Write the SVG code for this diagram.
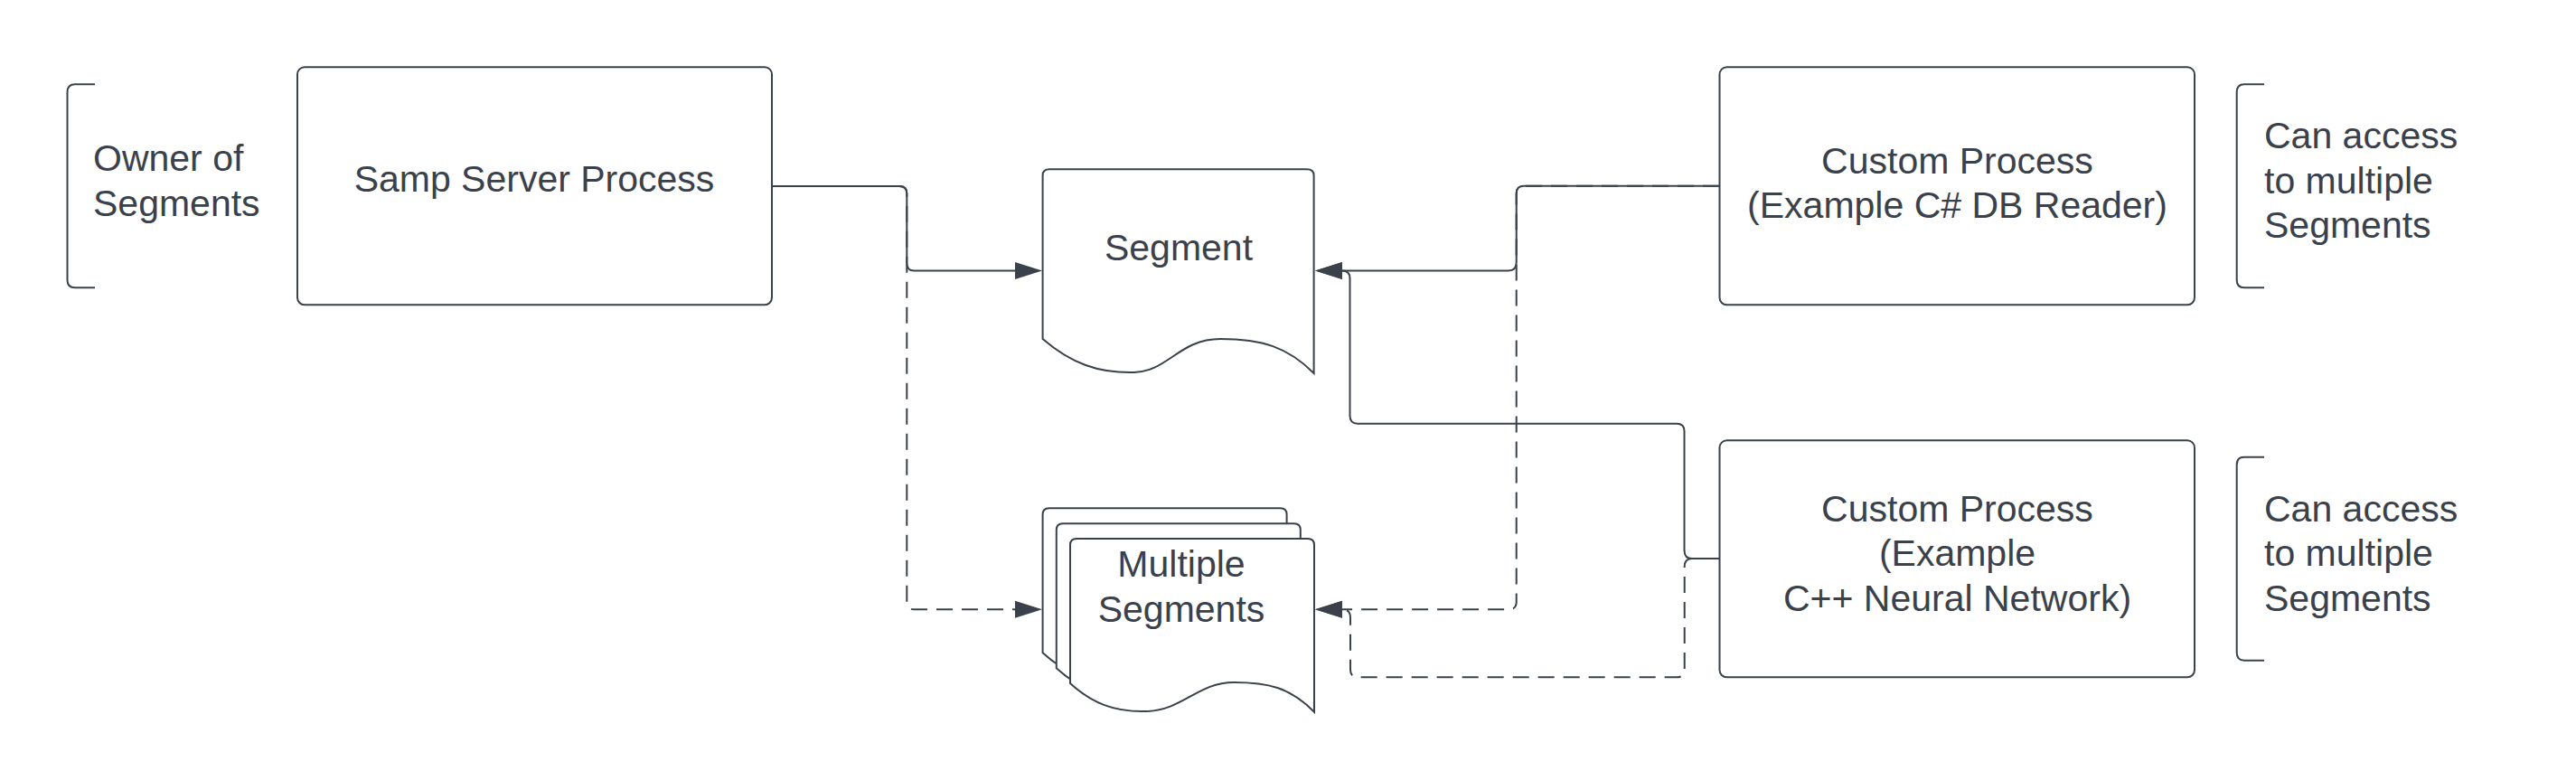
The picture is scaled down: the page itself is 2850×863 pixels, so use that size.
<svg xmlns="http://www.w3.org/2000/svg" width="2850" height="863" viewBox="0 0 2850 863">
<style>
.shape{fill:#ffffff;stroke:#3a414a;stroke-width:2}
.br{fill:none;stroke:#3a414a;stroke-width:2}
.ln{fill:none;stroke:#3a414a;stroke-width:2}
.dash{stroke-dasharray:18 10}
.t{font-family:"Liberation Sans",Arial,sans-serif;font-size:41px;fill:#3a414a}
.c{text-anchor:middle}
</style>
<defs>
<marker id="arr" markerUnits="userSpaceOnUse" markerWidth="32" markerHeight="22" refX="0" refY="10" orient="auto" overflow="visible">
<path d="M0,0.5 L30,10 L0,19.5 Z" fill="#3a414a"/>
</marker>
<path id="doc" d="M0,7 Q0,0 7,0 L263,0 Q270,0 270,7 L270,191.7 C243,164 218,159 181,159 C141,159 125,190 84,191 C49,192 24,182 0,160 Z"/>
</defs>
<rect width="2850" height="863" fill="#ffffff"/>

<g id="connectors">
<path class="ln dash" d="M854,206 L995,206 Q1003.3,206 1003.3,214 L1003.3,666 Q1003.3,674.3 1011,674.3 L1123,674.3" marker-end="url(#arr)"/>
<path class="ln" d="M854,206 L995,206 Q1003.3,206 1003.3,214 L1003.3,291 Q1003.3,299.5 1011,299.5 L1123,299.5" marker-end="url(#arr)"/>
<path class="ln dash" d="M1902,205.7 L1686,205.7 Q1677.7,205.7 1677.7,214 L1677.7,666 Q1677.7,674.3 1669,674.3 L1485,674.3" marker-end="url(#arr)"/>
<path class="ln" d="M1902,205.7 L1686,205.7 Q1677.7,205.7 1677.7,214 L1677.7,290 Q1677.7,299.5 1669,299.5 L1485,299.5" marker-end="url(#arr)"/>
<path class="ln dash" d="M1903,618 L1872,618 Q1863.7,618 1863.7,627 L1863.7,741 Q1863.7,749.3 1855,749.3 L1502,749.3 Q1494,749.3 1494,741 L1494,683 Q1494,674.3 1485,674.3" marker-end="url(#arr)"/>
<path class="ln" d="M1903,618 L1872,618 Q1863.5,618 1863.5,609 L1863.5,477 Q1863.5,468.7 1855,468.7 L1502,468.7 Q1493.5,468.7 1493.5,460 L1493.5,308 Q1493.5,299.5 1485,299.5" marker-end="url(#arr)"/>
</g>

<g id="owner-note">
<path class="br" d="M105,93.3 L83,93.3 Q74.5,93.3 74.5,102 L74.5,310 Q74.5,318.3 83,318.3 L105,318.3"/>
<text class="t" x="103" y="189">Owner of</text>
<text class="t" x="103" y="239">Segments</text>
</g>

<g id="samp-server">
<rect class="shape" x="329" y="74.3" width="525" height="263" rx="8"/>
<text class="t c" x="591" y="212">Samp Server Process</text>
</g>

<g id="segment">
<path class="shape" d="M1153.6,194 Q1153.6,187.3 1161,187.3 L1446,187.3 Q1453.6,187.3 1453.6,194 L1453.6,413 C1425,384 1396,375 1350,375 C1305,375 1292,411 1255,412 C1215,413 1185,402 1153.6,375 Z"/>
<text class="t c" x="1304" y="288">Segment</text>
</g>

<g id="multiple-segments">
<use href="#doc" class="shape" transform="translate(1153.6,562.3)"/>
<use href="#doc" class="shape" transform="translate(1168.8,579.2)"/>
<use href="#doc" class="shape" transform="translate(1184,596)"/>
<text class="t c" x="1307" y="638">Multiple</text>
<text class="t c" x="1307" y="688">Segments</text>
</g>

<g id="custom-process-1">
<rect class="shape" x="1902.5" y="74.3" width="525.5" height="263" rx="8"/>
<text class="t c" x="2165.5" y="192">Custom Process</text>
<text class="t c" x="2165.5" y="241">(Example C# DB Reader)</text>
</g>

<g id="note-1">
<path class="br" d="M2505,93.3 L2483,93.3 Q2474.7,93.3 2474.7,102 L2474.7,310 Q2474.7,318.3 2483,318.3 L2505,318.3"/>
<text class="t" x="2505" y="164">Can access</text>
<text class="t" x="2505" y="214">to multiple</text>
<text class="t" x="2505" y="263">Segments</text>
</g>

<g id="custom-process-2">
<rect class="shape" x="1902.5" y="487.3" width="525.5" height="262" rx="8"/>
<text class="t c" x="2165.5" y="577">Custom Process</text>
<text class="t c" x="2165.5" y="626">(Example</text>
<text class="t c" x="2165.5" y="676">C++ Neural Network)</text>
</g>

<g id="note-2">
<path class="br" d="M2505,505.7 L2483,505.7 Q2474.7,505.7 2474.7,514 L2474.7,722 Q2474.7,730.7 2483,730.7 L2505,730.7"/>
<text class="t" x="2505" y="577">Can access</text>
<text class="t" x="2505" y="626">to multiple</text>
<text class="t" x="2505" y="676">Segments</text>
</g>
</svg>
